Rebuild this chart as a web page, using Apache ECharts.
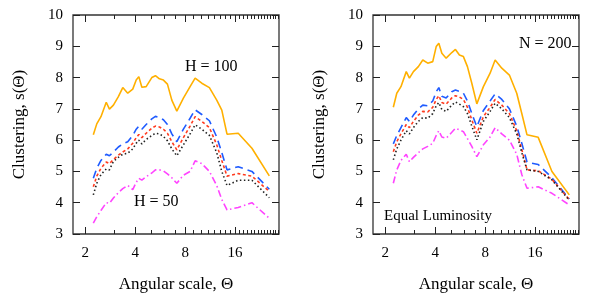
<!DOCTYPE html>
<html><head><meta charset="utf-8">
<script src="https://cdn.jsdelivr.net/npm/echarts@6/dist/echarts.min.js"></script>
<style>html,body{margin:0;padding:0;background:#fff}#c{width:599px;height:300px}</style>
</head><body><div id="c"></div>
<script>
// Angular scale (theta) sample points, shared by all curves
const theta = [2.24, 2.35, 2.49, 2.68, 2.80, 2.96, 3.17, 3.37, 3.61, 3.87, 4.06, 4.21, 4.39, 4.66, 5.04, 5.30,
  5.60, 5.92, 6.26, 6.65, 7.13, 7.81, 8.57, 9.19, 10.08, 11.2, 12.4, 13.3, 14.3, 16.7, 20.2, 25.7];

// Left panel (H = 100 top, H = 50 bottom)
const leftOrange = [6.17, 6.52, 6.75, 7.21, 6.99, 7.12, 7.39, 7.68, 7.50, 7.63, 7.92, 8.03, 7.69, 7.71, 8.00, 8.06,
  7.96, 7.92, 7.79, 7.28, 6.93, 7.34, 7.71, 7.98, 7.82, 7.68, 7.28, 6.96, 6.19, 6.22, 5.74, 4.86];
const leftBlue = [4.78, 5.10, 5.35, 5.55, 5.50, 5.62, 5.78, 5.88, 5.95, 6.15, 6.35, 6.45, 6.35, 6.50, 6.68, 6.76,
  6.72, 6.65, 6.50, 6.20, 5.95, 6.35, 6.70, 6.97, 6.82, 6.62, 6.10, 5.60, 5.05, 5.15, 5.00, 4.43];
const leftRed = [4.51, 4.85, 5.10, 5.30, 5.25, 5.38, 5.52, 5.62, 5.72, 5.90, 6.08, 6.18, 6.08, 6.22, 6.38, 6.45,
  6.42, 6.35, 6.22, 5.95, 5.69, 6.08, 6.45, 6.75, 6.60, 6.40, 5.85, 5.35, 4.85, 4.93, 4.85, 4.36];
const leftBlack = [4.25, 4.62, 4.90, 5.08, 5.05, 5.32, 5.45, 5.55, 5.58, 5.72, 5.90, 6.00, 5.88, 6.02, 6.15, 6.22,
  6.20, 6.12, 5.98, 5.72, 5.50, 5.85, 6.20, 6.49, 6.35, 6.15, 5.60, 5.00, 4.55, 4.72, 4.72, 4.16];
const leftMagenta = [3.35, 3.55, 3.75, 4.00, 3.98, 4.15, 4.32, 4.45, 4.55, 4.42, 4.65, 4.78, 4.72, 4.83, 4.95, 5.05,
  5.05, 5.02, 4.92, 4.80, 4.62, 4.88, 5.00, 5.34, 5.25, 5.00, 4.55, 4.10, 3.77, 3.85, 4.00, 3.50];

// Right panel (N = 200, Equal Luminosity)
const rightOrange = [7.05, 7.50, 7.71, 8.19, 7.98, 8.19, 8.35, 8.56, 8.46, 8.51, 8.99, 9.10, 8.78, 8.62, 8.80, 8.90,
  8.72, 8.67, 8.35, 7.82, 7.16, 7.71, 8.14, 8.56, 8.30, 8.08, 7.50, 6.85, 6.17, 6.09, 5.00, 4.25];
const rightBlue = [5.88, 6.15, 6.40, 6.72, 6.60, 6.80, 7.00, 7.12, 7.10, 7.25, 7.55, 7.68, 7.40, 7.35, 7.55, 7.60,
  7.56, 7.50, 7.25, 6.85, 6.43, 6.95, 7.25, 7.48, 7.30, 7.00, 6.45, 5.90, 5.30, 5.22, 4.80, 4.12];
const rightRed = [5.63, 5.95, 6.20, 6.50, 6.40, 6.60, 6.80, 6.92, 6.90, 7.05, 7.30, 7.42, 7.20, 7.15, 7.35, 7.42,
  7.38, 7.30, 7.05, 6.65, 6.22, 6.75, 7.05, 7.30, 7.12, 6.85, 6.30, 5.70, 5.05, 5.02, 4.75, 4.10];
const rightBlack = [5.37, 5.72, 6.00, 6.30, 6.20, 6.40, 6.60, 6.72, 6.70, 6.85, 7.10, 7.20, 6.98, 6.92, 7.12, 7.22,
  7.15, 7.07, 6.85, 6.45, 6.01, 6.60, 6.92, 7.18, 7.00, 6.72, 6.20, 5.60, 5.05, 5.00, 4.73, 4.08];
const rightMagenta = [4.62, 5.05, 5.35, 5.55, 5.31, 5.45, 5.60, 5.72, 5.80, 5.90, 6.15, 6.30, 6.10, 6.06, 6.25, 6.38,
  6.33, 6.27, 6.05, 5.80, 5.47, 5.85, 6.10, 6.40, 6.20, 6.00, 5.55, 4.90, 4.46, 4.51, 4.30, 3.93];

const xMajorTicks = [2, 4, 8, 16];
const xMinorTicks = [2, 3, 4, 5, 6, 7, 8, 9, 10, 11, 12, 13, 14, 15, 16, 17, 18, 19, 20, 21, 22, 23, 24, 25, 26, 27, 28, 29];
const yTicks = [3, 4, 5, 6, 7, 8, 9, 10];

const FONT = '"Liberation Serif", "DejaVu Serif", serif';
const XMIN = 1.69, XMAX = 29.4;

function xAx(grid, pos, major, labels) {
  return {
    type: 'log', logBase: 2, gridIndex: grid, position: pos, min: XMIN, max: XMAX,
    axisLine: {show: false}, splitLine: {show: false},
    axisTick: {show: true, inside: true, length: major ? 7 : 4, customValues: major ? xMajorTicks : xMinorTicks,
      lineStyle: {color: '#222', width: 1}},
    axisLabel: {show: labels, customValues: xMajorTicks, margin: 12, color: '#000',
      fontFamily: FONT, fontSize: 15, formatter: v => String(Math.round(v))},
    name: labels ? 'Angular scale, Θ' : '', nameLocation: 'middle', nameGap: 42,
    nameTextStyle: {fontFamily: FONT, fontSize: 17, color: '#000'}
  };
}
function yAx(grid, pos, labels) {
  return {
    type: 'value', gridIndex: grid, position: pos, min: 3, max: 10, interval: 1,
    axisLine: {show: false}, splitLine: {show: false},
    axisTick: {show: true, inside: true, length: 7, lineStyle: {color: '#222', width: 1}},
    axisLabel: {show: labels, margin: 10, color: '#000', fontFamily: FONT, fontSize: 15},
    name: labels ? 'Clustering, s(Θ)' : '', nameLocation: 'middle', nameGap: 45,
    nameTextStyle: {fontFamily: FONT, fontSize: 17, color: '#000'}
  };
}

const styles = [
  {color: '#FFB000', type: 'solid'},
  {color: '#1F5BFF', type: [8, 5]},
  {color: '#FF3B1F', type: [3, 2.5]},
  {color: '#222222', type: [1.5, 2.5]},
  {color: '#FF44FF', type: [7, 3, 1.5, 3]}
];
function ser(arr, s, xi, yi) {
  return {
    type: 'line', xAxisIndex: xi, yAxisIndex: yi, showSymbol: false, symbol: 'none', animation: false,
    data: theta.map((t, i) => [t, arr[i]]),
    lineStyle: {color: s.color, type: s.type, width: 1.6}
  };
}

const leftSet = [leftOrange, leftBlue, leftRed, leftBlack, leftMagenta];
const rightSet = [rightOrange, rightBlue, rightRed, rightBlack, rightMagenta];

const option = {
  animation: false,
  backgroundColor: '#fff',
  grid: [
    {left: 73, top: 15, width: 206, height: 219, show: true, borderColor: '#333', borderWidth: 1.3, backgroundColor: 'transparent'},
    {left: 373, top: 15, width: 206, height: 219, show: true, borderColor: '#333', borderWidth: 1.3, backgroundColor: 'transparent'}
  ],
  xAxis: [
    xAx(0, 'bottom', true, true), xAx(0, 'top', true, false), xAx(0, 'bottom', false, false), xAx(0, 'top', false, false),
    xAx(1, 'bottom', true, true), xAx(1, 'top', true, false), xAx(1, 'bottom', false, false), xAx(1, 'top', false, false)
  ],
  yAxis: [yAx(0, 'left', true), yAx(0, 'right', false), yAx(1, 'left', true), yAx(1, 'right', false)],
  series: [
    ...leftSet.map((a, i) => ser(a, styles[i], 0, 0)),
    ...rightSet.map((a, i) => ser(a, styles[i], 4, 2))
  ],
  graphic: [
    {type: 'text', left: 185, top: 59, style: {text: 'H = 100', font: '16px ' + FONT, fill: '#000'}},
    {type: 'text', left: 134, top: 194, style: {text: 'H = 50', font: '16px ' + FONT, fill: '#000'}},
    {type: 'text', left: 519, top: 36, style: {text: 'N = 200', font: '16px ' + FONT, fill: '#000'}},
    {type: 'text', left: 384, top: 209, style: {text: 'Equal Luminosity', font: '15px ' + FONT, fill: '#000'}}
  ]
};
const chart = echarts.init(document.getElementById('c'), null, {renderer: 'canvas'});
chart.setOption(option);
</script></body></html>
